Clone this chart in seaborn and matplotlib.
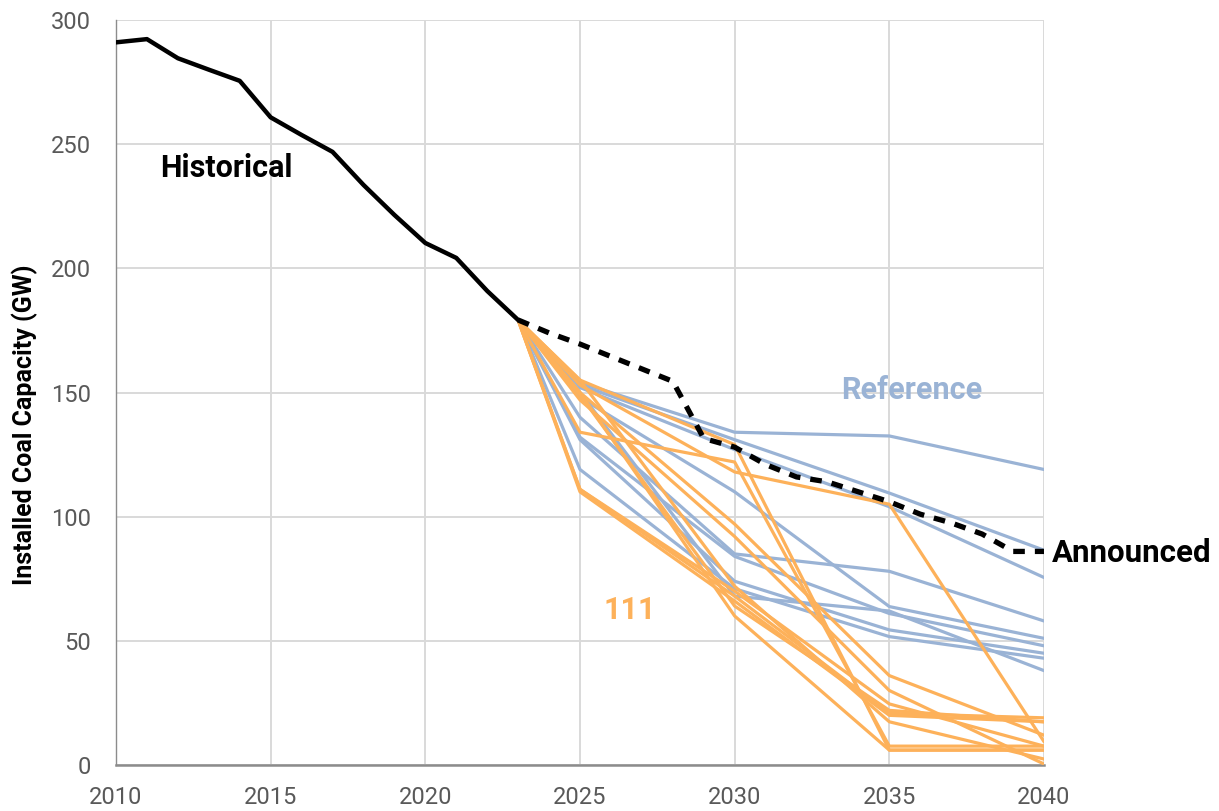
import numpy as np
import pandas as pd
import matplotlib
matplotlib.use("Agg")
import matplotlib.pyplot as plt
import seaborn as sns

# ---------------- data ----------------
hist_years = list(range(2010, 2024))
hist_values = [291, 292.3, 284.6, 280, 275.5, 260.8, 253.7, 246.9, 233.6, 221.5, 210.2, 204.2, 190.9, 179.2]

ann_years = list(range(2023, 2041))
ann_values = [179.2, 174, 169.5, 164.5, 159.5, 154.5, 131.5, 128, 121, 116, 114, 110, 106, 101, 97.5, 93, 86, 86]

scen_years = [2023, 2025, 2030, 2035, 2040]

reference_runs = {
    "R1": [179.2, 154, 134, 132.5, 119],
    "R2": [179.2, 153, 131, 109.5, 86.5],
    "R3": [179.2, 152, 127, 104, 75.5],
    "R4": [179.2, 148, 110, 63.8, 51],
    "R5": [179.2, 140, 85, 78, 58],
    "R6": [179.2, 132, 84, 61, 48],
    "R7": [179.2, 131, 74, 54.4, 45],
    "R8": [179.2, 119, 71, 51.7, 43],
    "R9": [179.2, 150, 68, 62, 38],
}

policy_runs = {
    "P1": [179.2, 153, 118, 105, 9.4],
    "P2": [179.2, 155, 129, 6, 6],
    "P3": [179.2, 134, 122, 7.6, 7.6],
    "P4": [179.2, 150, 97, 36, 12],
    "P5": [179.2, 147, 92, 30, 0.4],
    "P6": [179.2, 111, 70, 24.6, 7.6],
    "P7": [179.2, 111, 68, 20.8, 19],
    "P8": [179.2, 110, 66, 20, 17.4],
    "P9": [179.2, 155, 72, 17.4, 2.4],
    "P10": [179.2, 150, 60, 6, 6],
    "P11": [179.2, 149, 64, 22, 17.4],
}

# ---------------- build long table ----------------
rows = []
for name, vals in reference_runs.items():
    for y, v in zip(scen_years, vals):
        rows.append({"year": y, "value": v, "run": name, "group": "Reference"})
for name, vals in policy_runs.items():
    for y, v in zip(scen_years, vals):
        rows.append({"year": y, "value": v, "run": name, "group": "111"})
scen = pd.DataFrame(rows)
hist = pd.DataFrame({"year": hist_years, "value": hist_values})
ann = pd.DataFrame({"year": ann_years, "value": ann_values})

BLUE = "#9AB3D5"
ORANGE = "#FDB15A"

sns.set_style("whitegrid")
plt.rcParams["font.family"] = ["Roboto", "DejaVu Sans"]

fig = plt.figure(figsize=(12.19, 8.11), dpi=100)
ax = fig.add_axes([116 / 1219, 1 - 765 / 811, (1044 - 116) / 1219, (765 - 20) / 811])

sns.lineplot(data=scen[scen.group == "Reference"], x="year", y="value", units="run",
             estimator=None, color=BLUE, linewidth=2.3, ax=ax, legend=False, zorder=3)
sns.lineplot(data=scen[scen.group == "111"], x="year", y="value", units="run",
             estimator=None, color=ORANGE, linewidth=2.3, ax=ax, legend=False, zorder=4)
sns.lineplot(data=hist, x="year", y="value", color="black", linewidth=3.2, ax=ax, zorder=6)
sns.lineplot(data=ann, x="year", y="value", color="black", linewidth=3.8, ax=ax, zorder=7,
             dashes=False)
ax.lines[-1].set_dashes([2.2, 1.9])

ax.set_xlim(2010, 2040)
ax.set_ylim(0, 300)
ax.set_xticks(range(2010, 2041, 5))
ax.set_yticks(range(0, 301, 50))
ax.grid(True, color="#D9D9D9", linewidth=1.4)
ax.set_axisbelow(True)

for s in ["top", "right"]:
    ax.spines[s].set_visible(False)
ax.spines["left"].set_color("#8C8C8C")
ax.spines["left"].set_linewidth(1.0)
ax.spines["bottom"].set_color("#8C8C8C")
ax.spines["bottom"].set_linewidth(1.8)

ax.tick_params(axis="both", length=0, labelsize=17, labelcolor="#595959")
ax.tick_params(axis="x", pad=15)
ax.tick_params(axis="y", pad=18)

ax.set_xlabel("")
ax.set_ylabel("Installed Coal Capacity (GW)", fontsize=18, fontweight="bold",
              color="black", va="center")
ax.yaxis.set_label_coords((25 - 116) / 928, (765 - 425) / 745)

ax.text(2013.56, 240.4, "Historical", fontsize=22, fontweight="bold", color="black",
        ha="center", va="center", zorder=10)
ax.text(2035.74, 151, "Reference", fontsize=22, fontweight="bold", color=BLUE,
        ha="center", va="center", zorder=10)
ax.text(2026.6, 62.4, "111", fontsize=22, fontweight="bold", color=ORANGE,
        ha="center", va="center", zorder=10)
ax.text(2040.26, 85.4, "Announced", fontsize=22.5, fontweight="bold", color="black",
        ha="left", va="center", zorder=10, clip_on=False)

fig.savefig("out.png", dpi=100)
